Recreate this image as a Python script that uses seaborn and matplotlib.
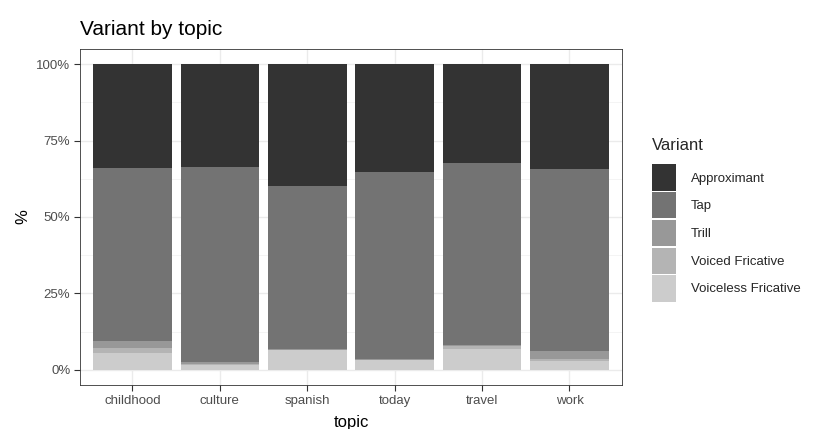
import numpy as np
import pandas as pd
import matplotlib
matplotlib.use("Agg")
import matplotlib.pyplot as plt
import seaborn as sns
from matplotlib.patches import Patch
from matplotlib.ticker import MultipleLocator, FuncFormatter

# data (percent of tokens per topic)
topics = ["childhood", "culture", "spanish", "today", "travel", "work"]
variants = ["Approximant", "Tap", "Trill", "Voiced Fricative", "Voiceless Fricative"]
approximant = [34.1, 33.6, 39.9, 35.3, 32.4, 34.4]
tap = [56.6, 63.9, 53.2, 61.2, 59.5, 59.5]
trill = [2.2, 0.6, 0.3, 0.3, 0.5, 2.5]
voiced = [1.6, 0.5, 0.0, 0.0, 0.8, 0.8]
voiceless = [5.5, 1.4, 6.6, 3.2, 6.8, 2.8]
colors = ["#333333", "#737373", "#989898", "#B4B4B4", "#CCCCCC"]

df = pd.DataFrame({
    "topic": topics,
    "Approximant": approximant,
    "Tap": tap,
    "Trill": trill,
    "Voiced Fricative": voiced,
    "Voiceless Fricative": voiceless,
})
# normalise to 100 and build cumulative heights (top layer first)
df[variants] = df[variants].div(df[variants].sum(axis=1), axis=0) * 100
cum = df[variants[::-1]].cumsum(axis=1)

sns.set_theme(style="white")
plt.rcParams["font.family"] = ["Liberation Sans", "DejaVu Sans"]

fig = plt.figure(figsize=(8.14, 4.29), dpi=100)
ax = fig.add_axes([0.0983, 0.1026, 0.6657, 0.7832])

for v, c in zip(variants, colors):
    sns.barplot(x=df["topic"], y=cum[v], color=c, width=0.9, ax=ax,
                saturation=1, edgecolor="none", linewidth=0, zorder=2)

ax.set_xlim(-0.6, 5.6)
ax.set_ylim(-5, 105)
ax.yaxis.set_major_locator(MultipleLocator(25))
ax.yaxis.set_minor_locator(MultipleLocator(12.5))
ax.yaxis.set_major_formatter(FuncFormatter(lambda y, _: f"{int(y)}%"))
ax.grid(True, which="major", color="#EBEBEB", linewidth=1.0, zorder=0)
ax.grid(True, which="minor", axis="y", color="#F2F2F2", linewidth=0.6, zorder=0)
ax.set_axisbelow(True)
for s in ax.spines.values():
    s.set_color("#333333")
    s.set_linewidth(0.6)
ax.tick_params(axis="both", which="major", length=4, width=0.8, color="#333333",
               labelsize=9.5, labelcolor="#4D4D4D", pad=3, bottom=True, left=True)
ax.tick_params(axis="y", which="minor", length=0)
ax.set_xlabel("topic", fontsize=12, color="black", labelpad=6)
ax.set_ylabel("%", fontsize=12, color="black", labelpad=4)
ax.set_title("Variant by topic", loc="left", fontsize=15, color="black", pad=10)

handles = [Patch(facecolor=c, edgecolor="none", label=v) for v, c in zip(variants, colors)]
leg = fig.legend(handles=handles, title="Variant", loc="upper left",
                 bbox_to_anchor=(0.795, 0.69), frameon=False, fontsize=9.5,
                 title_fontsize=12, handlelength=1.8, handleheight=2.7,
                 labelspacing=0.1, handletextpad=1.1, borderaxespad=0)
leg._legend_box.align = "left"
leg._legend_box.sep = 8

fig.savefig("out.png", dpi=100)
